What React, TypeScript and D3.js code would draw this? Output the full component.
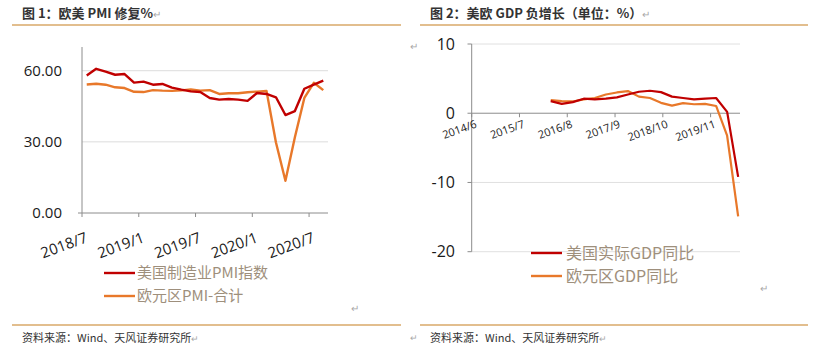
import React from "react";
import * as d3 from "d3";

// ---------- Chart 1 data: PMI ----------
const pmiMonths = [
  "2018/7","2018/8","2018/9","2018/10","2018/11","2018/12",
  "2019/1","2019/2","2019/3","2019/4","2019/5","2019/6",
  "2019/7","2019/8","2019/9","2019/10","2019/11","2019/12",
  "2020/1","2020/2","2020/3","2020/4","2020/5","2020/6",
  "2020/7","2020/8",
];
const usPmi = [
  58.0, 60.8, 59.6, 58.3, 58.6, 55.0,
  55.4, 54.1, 54.4, 52.9, 52.0, 51.3,
  51.0, 48.5, 47.8, 48.1, 47.8, 47.3,
  50.6, 50.2, 48.8, 41.3, 43.0, 52.4,
  54.1, 55.8,
];
const euPmi = [
  54.2, 54.5, 54.1, 53.0, 52.7, 51.1,
  51.0, 51.8, 51.6, 51.5, 51.7, 52.1,
  51.6, 51.8, 50.2, 50.5, 50.5, 50.9,
  51.2, 51.5, 29.7, 13.6, 31.9, 48.5,
  54.9, 51.8,
];
const pmiTickLabels = ["2018/7", "2019/1", "2019/7", "2020/1", "2020/7"];
const pmiYTicks = [0, 30, 60];

// ---------- Chart 2 data: GDP ----------
const gdpQuarters = [
  "2016/3","2016/6","2016/9","2016/12",
  "2017/3","2017/6","2017/9","2017/12",
  "2018/3","2018/6","2018/9","2018/12",
  "2019/3","2019/6","2019/9","2019/12",
  "2020/3","2020/6",
];
const usGdp = [
  1.75, 1.35, 1.6, 2.1,
  2.0, 2.1, 2.3, 2.7,
  3.1, 3.25, 3.05, 2.4,
  2.2, 2.0, 2.1, 2.2,
  0.2, -9.2,
];
const euGdp = [
  1.9, 1.75, 1.7, 2.0,
  2.2, 2.7, 3.0, 3.2,
  2.4, 2.2, 1.5, 1.1,
  1.45, 1.3, 1.35, 1.05,
  -3.25, -14.9,
];
const gdpTickLabels = ["2014/6", "2015/7", "2016/8", "2017/9", "2018/10", "2019/11"];
const gdpYTicks = [10, 0, -10, -20];

const RED = "#C00000";
const ORANGE = "#E8782A";
const LEGEND_TXT = "#9E8F7C";
const CJK = "'Noto Sans CJK SC', 'Noto Sans', sans-serif";
const NUM = "'Open Sans', 'Noto Sans', sans-serif";
const RULE = "#D9A868";
const RET = "#A8A8A8";

// monthly category list 2014/6 .. 2020/6
const gdpMonths: string[] = [];
for (let y = 2014, m = 6; y < 2020 || (y === 2020 && m <= 6); ) {
  gdpMonths.push(`${y}/${m}`);
  m++;
  if (m > 12) { m = 1; y++; }
}

function PmiChart() {
  const x = d3.scaleBand<string>().domain(pmiMonths).range([82, 328]).padding(0);
  const y = d3.scaleLinear().domain([0, 70]).range([213, 47]);
  const bw = x.bandwidth();
  const line = d3
    .line<number>()
    .x((_, i) => (x(pmiMonths[i]) as number) + bw / 2)
    .y((d) => y(d));
  return (
    <g>
      {pmiYTicks.filter((t) => t > 0).map((t) => (
        <line key={t} x1={82} x2={328} y1={y(t)} y2={y(t)} stroke="#DCDCDC" strokeWidth={1} />
      ))}
      <line x1={82} x2={82} y1={y(70)} y2={y(0)} stroke="#8C8C8C" strokeWidth={1} />
      <line x1={78} x2={82} y1={y(0)} y2={y(0)} stroke="#8C8C8C" />
      <line x1={82} x2={328} y1={y(0)} y2={y(0)} stroke="#8C8C8C" strokeWidth={1} />
      {pmiYTicks.map((t) => (
        <text key={t} x={62} y={y(t)} dy="0.36em" textAnchor="end" fontSize={15} fill="#1a1a1a" fontFamily={NUM}>
          {t.toFixed(2)}
        </text>
      ))}
      {pmiTickLabels.map((lab) => {
        const tx = x(lab) as number;
        return (
          <g key={lab}>
            <line x1={tx} x2={tx} y1={y(0)} y2={y(0) + 4} stroke="#8C8C8C" />
            <text
              transform={`translate(${tx + 3},${y(0) + 19}) rotate(-20)`}
              textAnchor="end"
              dy="0.7em"
              fontSize={15}
              fill="#1a1a1a"
              fontFamily={NUM}
            >
              {lab}
            </text>
          </g>
        );
      })}
      <path d={line(euPmi) || ""} fill="none" stroke={ORANGE} strokeWidth={2.4} strokeLinejoin="round" />
      <path d={line(usPmi) || ""} fill="none" stroke={RED} strokeWidth={2.4} strokeLinejoin="round" />
      {/* legend */}
      <line x1={104} x2={135} y1={273} y2={273} stroke={RED} strokeWidth={2.4} />
      <text x={137} y={273} dy="0.36em" fontSize={15} fill={LEGEND_TXT} fontFamily={CJK}>美国制造业PMI指数</text>
      <line x1={104} x2={135} y1={296} y2={296} stroke={ORANGE} strokeWidth={2.4} />
      <text x={137} y={296} dy="0.36em" fontSize={15} fill={LEGEND_TXT} fontFamily={CJK}>欧元区PMI-合计</text>
    </g>
  );
}

function GdpChart() {
  const x = d3.scaleBand<string>().domain(gdpMonths).range([471.7, 740]).padding(0);
  const y = d3.scaleLinear().domain([-20, 10]).range([251.7, 44]);
  const bw = x.bandwidth();
  const line = d3
    .line<number>()
    .x((_, i) => (x(gdpQuarters[i]) as number) + bw / 2)
    .y((d) => y(d));
  return (
    <g>
      {gdpYTicks.filter((t) => t !== 0).map((t) => (
        <line key={t} x1={471.7} x2={740} y1={y(t)} y2={y(t)} stroke="#E0E0E0" strokeWidth={1} />
      ))}
      <line x1={471.7} x2={471.7} y1={y(10)} y2={y(-20)} stroke="#8C8C8C" />
      {gdpYTicks.map((t) => (
        <g key={t}>
          <line x1={467.5} x2={471.7} y1={y(t)} y2={y(t)} stroke="#8C8C8C" />
          <text x={455} y={y(t)} dy="0.36em" textAnchor="end" fontSize={16} fill="#1a1a1a" fontFamily={NUM}>
            {t}
          </text>
        </g>
      ))}
      <line x1={471.7} x2={740} y1={y(0)} y2={y(0)} stroke="#8C8C8C" />
      {gdpTickLabels.map((lab) => {
        const tx = x(lab) as number;
        return (
          <g key={lab}>
            <line x1={tx} x2={tx} y1={y(0)} y2={y(0) + 4} stroke="#8C8C8C" />
            <text
              transform={`translate(${tx + 3},${y(0) + 6}) rotate(-20)`}
              textAnchor="end"
              dy="0.75em"
              fontSize={11}
              fill="#1a1a1a"
              fontFamily={NUM}
            >
              {lab}
            </text>
          </g>
        );
      })}
      <path d={line(euGdp) || ""} fill="none" stroke={ORANGE} strokeWidth={2.2} strokeLinejoin="round" />
      <path d={line(usGdp) || ""} fill="none" stroke={RED} strokeWidth={2.2} strokeLinejoin="round" />
      {/* legend */}
      <line x1={531} x2={562} y1={253} y2={253} stroke={RED} strokeWidth={2.4} />
      <text x={566} y={253} dy="0.36em" fontSize={16} fill={LEGEND_TXT} fontFamily={CJK}>美国实际GDP同比</text>
      <line x1={531} x2={562} y1={276} y2={276} stroke={ORANGE} strokeWidth={2.4} />
      <text x={566} y={276} dy="0.36em" fontSize={16} fill={LEGEND_TXT} fontFamily={CJK}>欧元区GDP同比</text>
    </g>
  );
}

export default function App() {
  return (
    <svg
      width={824}
      height={357}
      style={{ position: "absolute", left: 0, top: 0, background: "#fff" }}
    >
      <rect width={824} height={357} fill="#fff" />
      {/* titles */}
      <text x={22} y={13} dy="0.36em" fontSize={13} fontWeight="bold" fill="#333" fontFamily={CJK}>
        图 1：欧美 PMI 修复%<tspan fill={RET} fontWeight="normal" fontSize={10}>↵</tspan>
      </text>
      <text x={430} y={13} dy="0.36em" fontSize={13} fontWeight="bold" fill="#333" fontFamily={CJK}>
        图 2：美欧 GDP 负增长（单位：%）<tspan fill={RET} fontWeight="normal" fontSize={10}>↵</tspan>
      </text>
      <line x1={12} x2={401} y1={25} y2={25} stroke={RULE} strokeWidth={1.3} />
      <line x1={420} x2={808} y1={25} y2={25} stroke={RULE} strokeWidth={1.3} />
      <text x={410} y={50} fontSize={10} fill={RET} fontFamily={CJK}>↵</text>

      <PmiChart />
      <GdpChart />

      <text x={351} y={312} fontSize={10} fill={RET} fontFamily={CJK}>↵</text>
      <text x={760} y={292} fontSize={10} fill={RET} fontFamily={CJK}>↵</text>

      {/* bottom rules & sources */}
      <line x1={12} x2={401} y1={325} y2={325} stroke={RULE} strokeWidth={1.3} />
      <line x1={420} x2={808} y1={325} y2={325} stroke={RULE} strokeWidth={1.3} />
      <text x={22} y={338} dy="0.36em" fontSize={11} fill="#333" fontFamily={CJK}>
        资料来源：Wind、天风证券研究所<tspan fill={RET} fontSize={9}>↵</tspan>
      </text>
      <text x={410} y={338} dy="0.36em" fontSize={9} fill={RET} fontFamily={CJK}>↵</text>
      <text x={430} y={338} dy="0.36em" fontSize={11} fill="#333" fontFamily={CJK}>
        资料来源：Wind、天风证券研究所<tspan fill={RET} fontSize={9}>↵</tspan>
      </text>
    </svg>
  );
}
